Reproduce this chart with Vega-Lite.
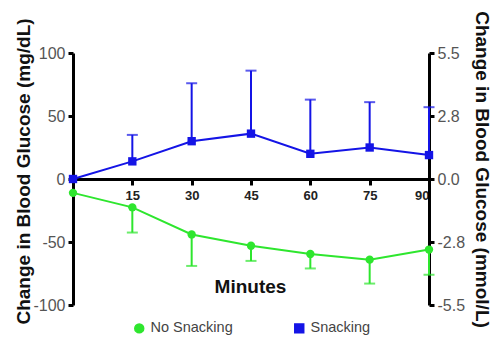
{
  "$schema": "https://vega.github.io/schema/vega-lite/v6.json",
  "width": 356,
  "height": 252,
  "autosize": {"type": "none"},
  "padding": {"left": 73, "top": 53, "right": 63, "bottom": 34},
  "background": "white",
  "config": {
    "view": {"stroke": null},
    "font": "Liberation Sans",
    "axis": {"grid": false, "labelFont": "Liberation Sans", "titleFont": "Liberation Sans"}
  },
  "data": {
    "values": [
      {"group": "Snacking", "minute": 0, "mgdl": 0, "err": null},
      {"group": "Snacking", "minute": 15, "mgdl": 14, "err": 35},
      {"group": "Snacking", "minute": 30, "mgdl": 30, "err": 76},
      {"group": "Snacking", "minute": 45, "mgdl": 36, "err": 86},
      {"group": "Snacking", "minute": 60, "mgdl": 20, "err": 63},
      {"group": "Snacking", "minute": 75, "mgdl": 25, "err": 61},
      {"group": "Snacking", "minute": 90, "mgdl": 19, "err": 57},
      {"group": "No Snacking", "minute": 0, "mgdl": -11, "err": null},
      {"group": "No Snacking", "minute": 15, "mgdl": -22.5, "err": -42.5},
      {"group": "No Snacking", "minute": 30, "mgdl": -44, "err": -69},
      {"group": "No Snacking", "minute": 45, "mgdl": -53, "err": -65},
      {"group": "No Snacking", "minute": 60, "mgdl": -59.5, "err": -71},
      {"group": "No Snacking", "minute": 75, "mgdl": -64, "err": -83},
      {"group": "No Snacking", "minute": 90, "mgdl": -56, "err": -76}
    ]
  },
  "encoding": {
    "x": {
      "field": "minute",
      "type": "quantitative",
      "scale": {"domain": [0, 90], "nice": false},
      "axis": {
        "title": "Minutes",
        "offset": -126,
        "values": [15, 30, 45, 60, 75, 90],
        "domainColor": "black",
        "domainWidth": 3,
        "tickColor": "black",
        "tickWidth": 3,
        "tickSize": 6,
        "labelPadding": 4,
        "labelFontSize": 13,
        "labelFontWeight": "bold",
        "labelColor": "#222222",
        "titleFontSize": 19,
        "titleFontWeight": "bold",
        "titleColor": "#111111",
        "titleX": 177,
        "titleY": 107,
        "titleBaseline": "middle"
      }
    },
    "color": {
      "field": "group",
      "type": "nominal",
      "scale": {"domain": ["No Snacking", "Snacking"], "range": ["#2ee62e", "#1414e6"]},
      "legend": {
        "title": null,
        "orient": "none",
        "direction": "horizontal",
        "legendX": 59,
        "legendY": 268,
        "labelFontSize": 14.5,
        "labelColor": "#444444",
        "symbolSize": 80,
        "symbolOpacity": 1,
        "columnPadding": 58,
        "labelOffset": 4
      }
    }
  },
  "resolve": {"axis": {"y": "independent"}},
  "layer": [
    {
      "transform": [{"filter": "isValid(datum.err)"}],
      "mark": {"type": "rule", "strokeWidth": 2},
      "encoding": {
        "y": {
          "field": "mgdl",
          "type": "quantitative",
          "scale": {"domain": [-100, 100], "nice": false},
          "axis": {
            "orient": "left",
            "title": "Change in Blood Glucose (mg/dL)",
            "values": [-100, -50, 0, 50, 100],
            "labelExpr": "'' + datum.value",
            "domainColor": "black",
            "domainWidth": 3,
            "tickColor": "black",
            "tickWidth": 3,
            "tickSize": 5,
            "labelPadding": 3,
            "labelFontSize": 16,
            "labelColor": "#555555",
            "titleFontSize": 19,
            "titleFontWeight": "bold",
            "titleColor": "#111111",
            "titleX": -50,
            "titleY": 118,
            "titleBaseline": "middle"
          }
        },
        "y2": {"field": "err"}
      }
    },
    {
      "transform": [{"filter": "isValid(datum.err)"}],
      "mark": {"type": "tick", "thickness": 2, "size": 11, "orient": "horizontal"},
      "encoding": {
        "y": {"field": "err", "type": "quantitative", "axis": null}
      }
    },
    {
      "mark": {"type": "line", "strokeWidth": 2},
      "encoding": {
        "y": {
          "field": "mgdl",
          "type": "quantitative",
          "axis": {
            "orient": "right",
            "title": "Change in Blood Glucose (mmol/L)",
            "values": [-100, -50, 0, 50, 100],
            "labelExpr": "replace(format(datum.value * 0.055, '.1f'), '\u2212', '-')",
            "domainColor": "black",
            "domainWidth": 3,
            "tickColor": "black",
            "tickWidth": 3,
            "tickSize": 5,
            "labelPadding": 3,
            "labelFontSize": 16,
            "labelColor": "#555555",
            "titleFontSize": 19,
            "titleFontWeight": "bold",
            "titleColor": "#111111",
            "titleAngle": 90,
            "titleX": 52,
            "titleY": 116,
            "titleBaseline": "middle"
          }
        }
      }
    },
    {
      "mark": {"type": "point", "filled": true, "opacity": 1, "size": 70},
      "encoding": {
        "y": {"field": "mgdl", "type": "quantitative", "axis": null},
        "shape": {
          "field": "group",
          "type": "nominal",
          "scale": {"domain": ["No Snacking", "Snacking"], "range": ["circle", "square"]},
          "legend": {
            "title": null,
            "orient": "none",
            "direction": "horizontal",
            "legendX": 59,
            "legendY": 268,
            "labelFontSize": 14.5,
            "labelColor": "#444444",
            "symbolSize": 80,
            "symbolOpacity": 1,
            "columnPadding": 58,
            "labelOffset": 4
          }
        }
      }
    }
  ]
}
